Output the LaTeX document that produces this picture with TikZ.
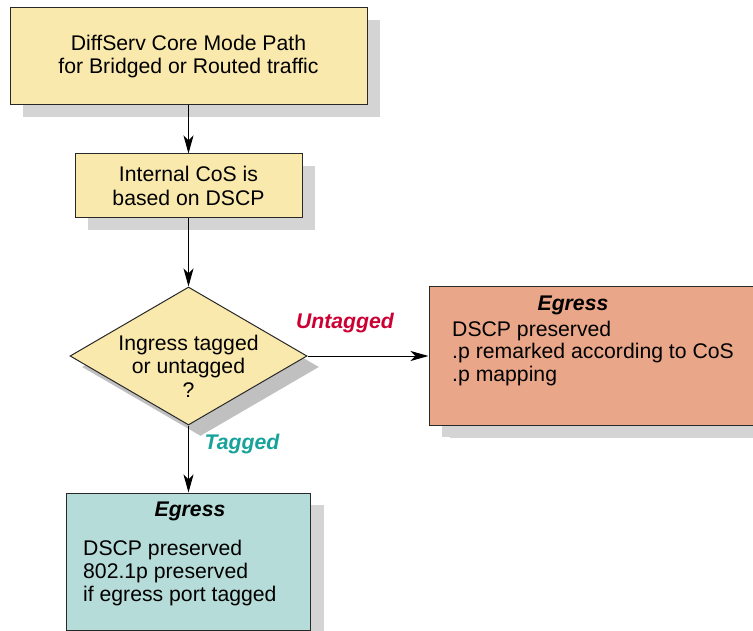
\documentclass[tikz,border=0pt]{standalone}
\usepackage{fontspec}
\setmainfont{Liberation Sans}
\usepackage{tikz}
\usetikzlibrary{shapes.geometric, arrows.meta, positioning, shadows}
\definecolor{boxyellow}{RGB}{250,233,172}
\definecolor{boxteal}{RGB}{181,220,216}
\definecolor{boxsalmon}{RGB}{234,166,136}
\definecolor{shadowgray}{RGB}{212,212,212}
\definecolor{shadowdark}{RGB}{192,192,192}
\definecolor{untagred}{RGB}{204,0,51}
\definecolor{tagteal}{RGB}{23,162,156}
\definecolor{edgegray}{RGB}{40,40,40}

\begin{document}
\begin{tikzpicture}[
    x=1pt, y=-1pt,
    font=\fontsize{21.2}{23.5}\selectfont,
    box/.style={rectangle, draw=edgegray, line width=1pt, inner sep=0pt, align=center,
        drop shadow={shadow xshift=13pt, shadow yshift=-12pt, fill=shadowgray, opacity=1}},
    decision/.style={diamond, draw=edgegray, line width=1pt, fill=boxyellow, inner sep=0pt,
        minimum width=237pt, minimum height=138pt,
        drop shadow={shadow xshift=12pt, shadow yshift=-11pt, fill=shadowdark, opacity=1}},
    title/.style={font=\fontsize{21.2}{23.5}\selectfont\bfseries\itshape, inner sep=0pt},
    body/.style={font=\fontsize{21.2}{22.5}\selectfont, align=left, anchor=north west, inner sep=0pt},
    branch/.style={font=\fontsize{21.2}{23.5}\selectfont\bfseries\itshape, inner sep=0pt},
    arrow/.style={-{Stealth[length=18pt, width=10pt, inset=5pt]}, line width=1pt}
]
\useasboundingbox (0,0) rectangle (753,631);

% === CORE MODE PATH ===
\node[box, fill=boxyellow, minimum width=357pt, minimum height=97pt] (core) at (188.5,56.5)
    {DiffServ Core Mode Path\\for Bridged or Routed traffic};

% === INTERNAL COS ===
\node[box, fill=boxyellow, minimum width=227pt, minimum height=64pt, below=48pt of core] (cos)
    {Internal CoS is\\based on DSCP};

% === TAGGED / UNTAGGED DECISION ===
\node[decision, below=68pt of cos] (ingress) {};
\node[align=center, inner sep=0pt, yshift=-10pt] (ingresstext) at (ingress.center)
    {Ingress tagged\\or untagged\\?};

% === EGRESS, UNTAGGED ===
\node[box, fill=boxsalmon, minimum width=324pt, minimum height=138pt, right=121pt of ingress,
    drop shadow={shadow xshift=21pt, shadow yshift=-13pt, fill=shadowgray, opacity=1}] (untagbox) {};
\node[title] (untagtitle) at (573,305) {Egress};
\node[body] (untagbody) at (452,320.5)
    {DSCP preserved\\.p remarked according to CoS\\.p mapping};

% === EGRESS, TAGGED ===
\node[box, fill=boxteal, minimum width=244pt, minimum height=137pt, below=67pt of ingress] (tagbox) {};
\node[title] (tagtitle) at (190,511) {Egress};
\node[body, font=\fontsize{21.2}{23}\selectfont] (tagbody) at (83,539.5)
    {DSCP preserved\\802.1p preserved\\if egress port tagged};

% Branch labels
\node[branch, text=untagred] (untaglbl) at (345,323.5) {Untagged};
\node[branch, text=tagteal] (taglbl) at (242,444) {Tagged};

% Arrows
\draw[arrow] (core) -- (cos);
\draw[arrow] (cos) -- (ingress);
\draw[arrow] (ingress.east) -- (ingress.east -| untagbox.west);
\draw[arrow] (ingress.south) -- (ingress.south |- tagbox.north);

\end{tikzpicture}
\end{document}
